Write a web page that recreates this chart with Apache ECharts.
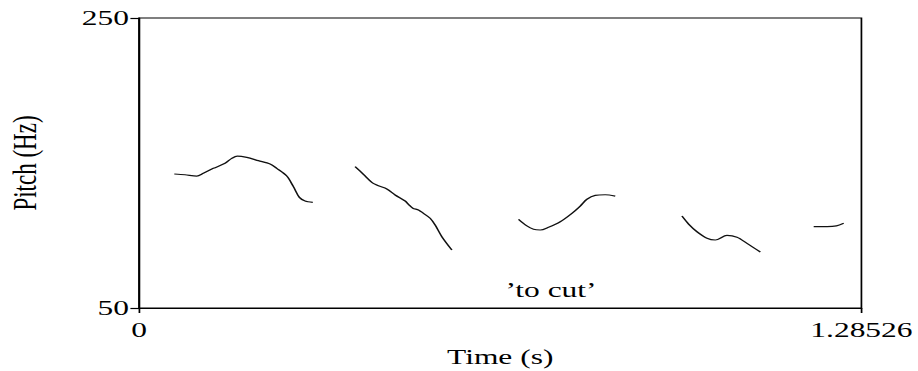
<!DOCTYPE html>
<html>
<head>
<meta charset="utf-8">
<script src="https://cdn.jsdelivr.net/npm/echarts@6/dist/echarts.min.js"></script>
<style>
html,body{margin:0;padding:0;background:#fff;overflow:hidden;}
#wrap{width:918px;height:371px;overflow:hidden;}
#chart{width:642px;height:371px;transform:scaleX(1.43);transform-origin:0 0;}
</style>
</head>
<body>
<div id="wrap"><div id="chart"></div></div>
<script>
// Axis ranges and tick labels
const xTicks = [0, 1.28526];
const yTicks = [50, 250];
const annotation = '\u2019to cut\u2019';

// Pitch contour segments (time in s, pitch in Hz)
const seg1Time  = [0.0628,0.0819,0.1027,0.1145,0.1323,0.1531,0.1650,0.1750,0.1917,0.2124,0.2332,0.2451,0.2629,0.2747,0.2853,0.2955,0.3092];
const seg1Pitch = [142.4,141.9,141.0,142.9,146.3,149.8,153.2,154.8,153.9,151.6,149.3,146.3,141.0,133.7,126.3,123.8,122.9];
const seg2Time  = [0.3845,0.3993,0.4142,0.4260,0.4409,0.4557,0.4735,0.4794,0.4872,0.4972,0.5060,0.5180,0.5269,0.5388,0.5566];
const seg2Pitch = [147.5,142.2,136.7,134.3,132.1,127.9,123.8,121.5,118.8,117.6,115.3,111.9,107.2,99.2,90.0];
const seg3Time  = [0.6752,0.6901,0.7019,0.7138,0.7286,0.7494,0.7702,0.7850,0.7969,0.8117,0.8295,0.8473];
const seg3Pitch = [111.2,106.6,104.3,103.8,105.7,109.5,115.3,120.3,125.0,127.7,128.1,127.2];
const seg4Time  = [0.9660,0.9778,0.9927,1.0105,1.0253,1.0461,1.0639,1.0817,1.1054];
const seg4Pitch = [113.4,107.9,102.6,98.1,96.9,100.1,98.8,94.6,88.6];
const seg5Time  = [1.2003,1.2241,1.2407,1.2537];
const seg5Pitch = [106.1,106.1,106.6,108.4];

const segments = [[seg1Time,seg1Pitch],[seg2Time,seg2Pitch],[seg3Time,seg3Pitch],[seg4Time,seg4Pitch],[seg5Time,seg5Pitch]];

const font = 'Liberation Serif';
const chart = echarts.init(document.getElementById('chart'), null, {renderer:'svg'});
chart.setOption({
  backgroundColor:'#fff',
  animation:false,
  grid:{left:97.2, right:39.6, top:18, bottom:63, outerBoundsMode:'none', containLabel:false,
    show:true, borderColor:'#000', borderWidth:1.2, backgroundColor:'transparent'},
  xAxis:{
    type:'value', min:xTicks[0], max:xTicks[1],
    name:'Time (s)', nameLocation:'middle', nameGap:35,
    nameTextStyle:{color:'#000', fontFamily:font, fontSize:22},
    axisLine:{show:true, onZero:false, lineStyle:{color:'#000', width:1.2}},
    axisTick:{show:true, length:5, customValues:xTicks, lineStyle:{color:'#000', width:1.2}},
    axisLabel:{color:'#000', fontFamily:font, fontSize:22, margin:11, customValues:xTicks,
      formatter:v => String(v)},
    splitLine:{show:false}
  },
  yAxis:{
    type:'value', min:yTicks[0], max:yTicks[1],
    name:'Pitch (Hz)', nameLocation:'middle', nameGap:68,
    nameTextStyle:{color:'#000', fontFamily:font, fontSize:23},
    axisLine:{show:true, lineStyle:{color:'#000', width:1.2}},
    axisTick:{show:true, length:6, customValues:yTicks, lineStyle:{color:'#000', width:1.2}},
    axisLabel:{color:'#000', fontFamily:font, fontSize:22, margin:7, customValues:yTicks,
      formatter:v => String(v)},
    splitLine:{show:false}
  },
  graphic:[{
    type:'text', x:385.3, y:290,
    style:{text:annotation, font:'22px "Liberation Serif"', fill:'#000', textAlign:'center', textVerticalAlign:'middle'}
  }],
  series: segments.map(s => ({
    type:'line', showSymbol:false, smooth:0.3,
    lineStyle:{color:'#111', width:1.2},
    data: s[0].map((t,i) => [t, s[1][i]])
  }))
});
</script>
</body>
</html>
